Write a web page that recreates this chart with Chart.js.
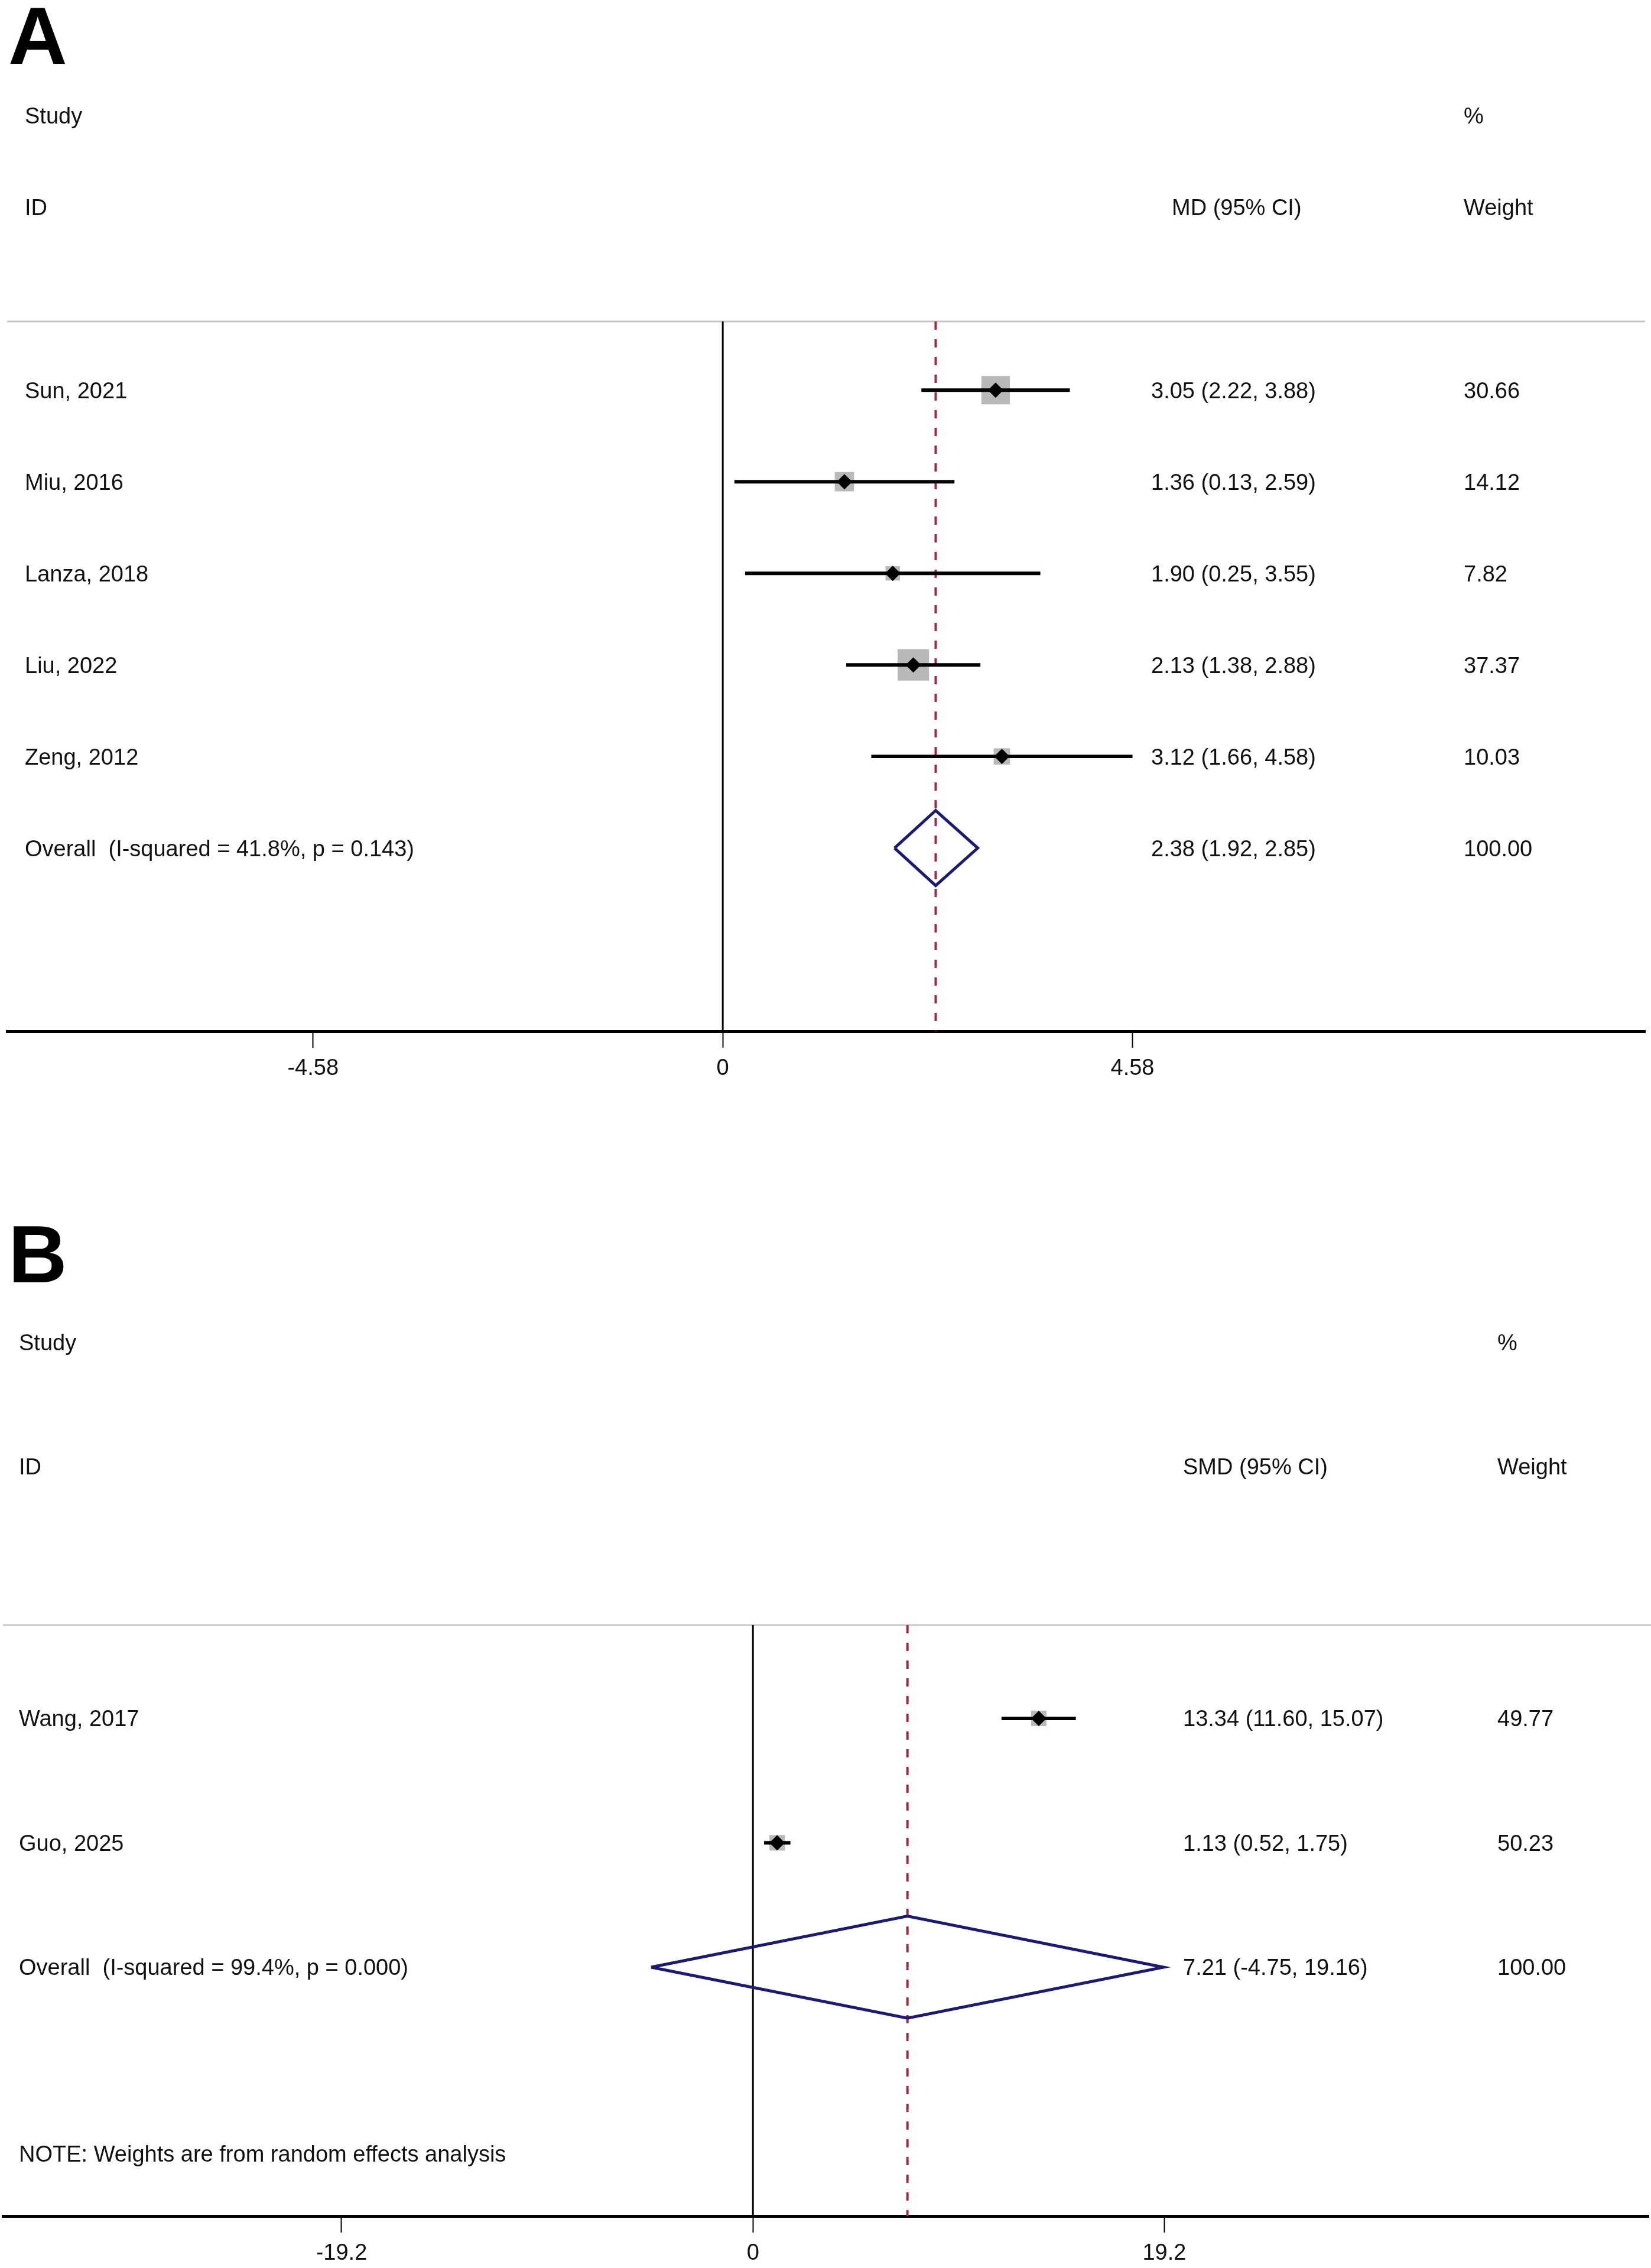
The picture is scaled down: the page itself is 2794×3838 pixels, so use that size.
<!DOCTYPE html>
<html>
<head>
<meta charset="utf-8">
<script src="https://cdn.jsdelivr.net/npm/chart.js@4.4.0/dist/chart.umd.min.js"></script>
<style>
  html, body { margin: 0; padding: 0; background: #fff; }
  canvas { position: absolute; left: 0; }
  #forestA { top: 0; }
  #forestB { top: 1920px; }
</style>
</head>
<body>
<canvas id="forestA" width="2794" height="1920"></canvas>
<canvas id="forestB" width="2794" height="1918"></canvas>
<script>
// panel A - MD
const studiesA = ["Sun, 2021", "Miu, 2016", "Lanza, 2018", "Liu, 2022", "Zeng, 2012"];
const mdA = [3.05, 1.36, 1.90, 2.13, 3.12];
const loA = [2.22, 0.13, 0.25, 1.38, 1.66];
const hiA = [3.88, 2.59, 3.55, 2.88, 4.58];
const weightA = [30.66, 14.12, 7.82, 37.37, 10.03];
const overallA = [2.38, 1.92, 2.85];
const overallLabelA = "Overall  (I-squared = 41.8%, p = 0.143)";
const ticksA = [-4.58, 0, 4.58];

// panel B - SMD
const studiesB = ["Wang, 2017", "Guo, 2025"];
const smdB = [13.34, 1.13];
const loB = [11.60, 0.52];
const hiB = [15.07, 1.75];
const weightB = [49.77, 50.23];
const overallB = [7.21, -4.75, 19.16];
const overallLabelB = "Overall  (I-squared = 99.4%, p = 0.000)";
const ticksB = [-19.2, 0, 19.2];

const FONT = '"Liberation Sans", Arial, sans-serif';
const FS = 38;
const TXT = "#111";
const DY = 3; // small nudge so text centres sit on the rows

function ciText(e, l, h) {
  return e.toFixed(2) + " (" + l.toFixed(2) + ", " + h.toFixed(2) + ")";
}

function forest(id, p) {
  const n = p.studies.length;
  const ci = [];
  p.est.forEach((e, i) => {
    ci.push({ x: p.lo[i], y: i }, { x: p.hi[i], y: i }, { x: null, y: null });
  });
  const pts = p.est.map((e, i) => ({ x: e, y: i }));
  const [oe, ol, oh] = p.overall;
  const dh = 0.41;
  const diamond = [
    { x: ol, y: n }, { x: oe, y: n - dh }, { x: oh, y: n }, { x: oe, y: n + dh }, { x: ol, y: n }
  ];

  const textPlugin = {
    id: "forestText",
    beforeDatasetsDraw(chart) {
      const { ctx, chartArea } = chart;
      ctx.save();
      ctx.strokeStyle = "#c8c8c8";
      ctx.lineWidth = 3;
      ctx.beginPath();
      ctx.moveTo(chartArea.left, chartArea.top);
      ctx.lineTo(chartArea.right + p.grayExtra, chartArea.top);
      ctx.stroke();
      ctx.restore();
    },
    afterDraw(chart) {
      const ctx = chart.ctx;
      const ys = chart.scales.y;
      ctx.save();
      ctx.fillStyle = "#000";
      ctx.font = "bold 138px " + FONT;
      ctx.textBaseline = "alphabetic";
      ctx.fillText(p.letter, p.letterX, p.letterY);

      ctx.fillStyle = TXT;
      ctx.font = FS + "px " + FONT;
      ctx.textBaseline = "middle";
      ctx.textAlign = "left";
      ctx.fillText("Study", p.labelX, p.studyY + DY);
      ctx.fillText("ID", p.labelX, p.idY + DY);
      ctx.fillText("%", p.wX, p.studyY + DY);
      ctx.fillText("Weight", p.wX, p.idY + DY);
      ctx.fillText(p.effHead, p.effHeadX, p.idY + DY);

      p.studies.forEach((s, i) => {
        const y = ys.getPixelForValue(i) + DY;
        ctx.fillText(s, p.labelX, y);
        ctx.fillText(ciText(p.est[i], p.lo[i], p.hi[i]), p.effX, y);
        ctx.fillText(p.weight[i].toFixed(2), p.wX, y);
      });
      const yo = ys.getPixelForValue(n) + DY;
      ctx.fillText(p.overallLabel, p.labelX, yo);
      ctx.fillText(ciText(oe, ol, oh), p.effX, yo);
      ctx.fillText("100.00", p.wX, yo);
      if (p.note) ctx.fillText(p.note, p.labelX, ys.getPixelForValue(p.noteRow) + DY);
      ctx.restore();
    }
  };

  return new Chart(document.getElementById(id), {
    type: "scatter",
    data: {
      datasets: [
        {
          label: "markers",
          data: pts,
          pointStyle: "rectRot",
          pointRadius: 13,
          backgroundColor: "#000",
          borderWidth: 0,
          order: 0
        },
        {
          label: "ci",
          data: ci,
          showLine: true,
          spanGaps: false,
          borderColor: "#000",
          borderWidth: 6,
          pointRadius: 0,
          order: 1
        },
        {
          label: "overall",
          data: diamond,
          showLine: true,
          borderColor: "#1b1b73",
          borderWidth: 5,
          borderJoinStyle: "miter",
          pointRadius: 0,
          order: 1
        },
        {
          label: "weights",
          data: pts,
          pointStyle: "rect",
          pointRadius: (c) => p.boxScale * Math.sqrt(p.weight[c.dataIndex]) / Math.SQRT2,
          backgroundColor: "#b9b9b9",
          borderWidth: 0,
          order: 2
        },
        {
          label: "null",
          data: [{ x: 0, y: p.yMin }, { x: 0, y: p.yMax }],
          showLine: true,
          borderColor: "#000",
          borderWidth: 3,
          pointRadius: 0,
          order: 3
        },
        {
          label: "pooled",
          data: [{ x: oe, y: p.yMin }, { x: oe, y: p.yMax }],
          showLine: true,
          borderColor: "#a3293f",
          borderWidth: 4,
          borderDash: [14, 16],
          pointRadius: 0,
          order: 3
        }
      ]
    },
    options: {
      responsive: false,
      devicePixelRatio: 1,
      animation: false,
      events: [],
      layout: { padding: p.pad, autoPadding: false },
      plugins: { legend: { display: false }, tooltip: { enabled: false } },
      scales: {
        x: {
          type: "linear",
          min: p.xMin,
          max: p.xMax,
          afterBuildTicks: (s) => { s.ticks = p.ticks.map((v) => ({ value: v })); },
          afterFit: (s) => { s.height = 80; },
          grid: {
            display: true,
            drawOnChartArea: false,
            drawTicks: true,
            tickLength: 28,
            tickWidth: 2,
            tickColor: "#000"
          },
          border: { display: true, width: 5, color: "#000" },
          ticks: {
            color: TXT,
            font: { family: FONT, size: FS },
            padding: 13,
            maxRotation: 0,
            autoSkip: false,
            callback: (v) => String(v)
          }
        },
        y: {
          type: "linear",
          display: false,
          reverse: true,
          min: p.yMin,
          max: p.yMax
        }
      }
    },
    plugins: [textPlugin]
  });
}

forest("forestA", {
  studies: studiesA, est: mdA, lo: loA, hi: hiA, weight: weightA,
  overall: overallA, overallLabel: overallLabelA, ticks: ticksA,
  effHead: "MD (95% CI)",
  xMin: -8.0, xMax: 10.31, yMin: -0.75, yMax: 7,
  pad: { top: 544, bottom: 95, left: 12, right: 10 },
  boxScale: 8.7, grayExtra: 0,
  letter: "A", letterX: 14, letterY: 108,
  labelX: 42, studyY: 196, idY: 351,
  effX: 1948, effHeadX: 1983, wX: 2477
});

forest("forestB", {
  studies: studiesB, est: smdB, lo: loB, hi: hiB, weight: weightB,
  overall: overallB, overallLabel: overallLabelB, ticks: ticksB,
  effHead: "SMD (95% CI)",
  note: "NOTE: Weights are from random effects analysis", noteRow: 3.5,
  xMin: -35.0, xMax: 41.8, yMin: -0.75, yMax: 4,
  pad: { top: 830, bottom: 8, left: 5, right: 4 },
  boxScale: 3.7, grayExtra: 4,
  letter: "B", letterX: 14, letterY: 250,
  labelX: 32, studyY: 352, idY: 562,
  effX: 2002, effHeadX: 2002, wX: 2534
});
</script>
</body>
</html>
